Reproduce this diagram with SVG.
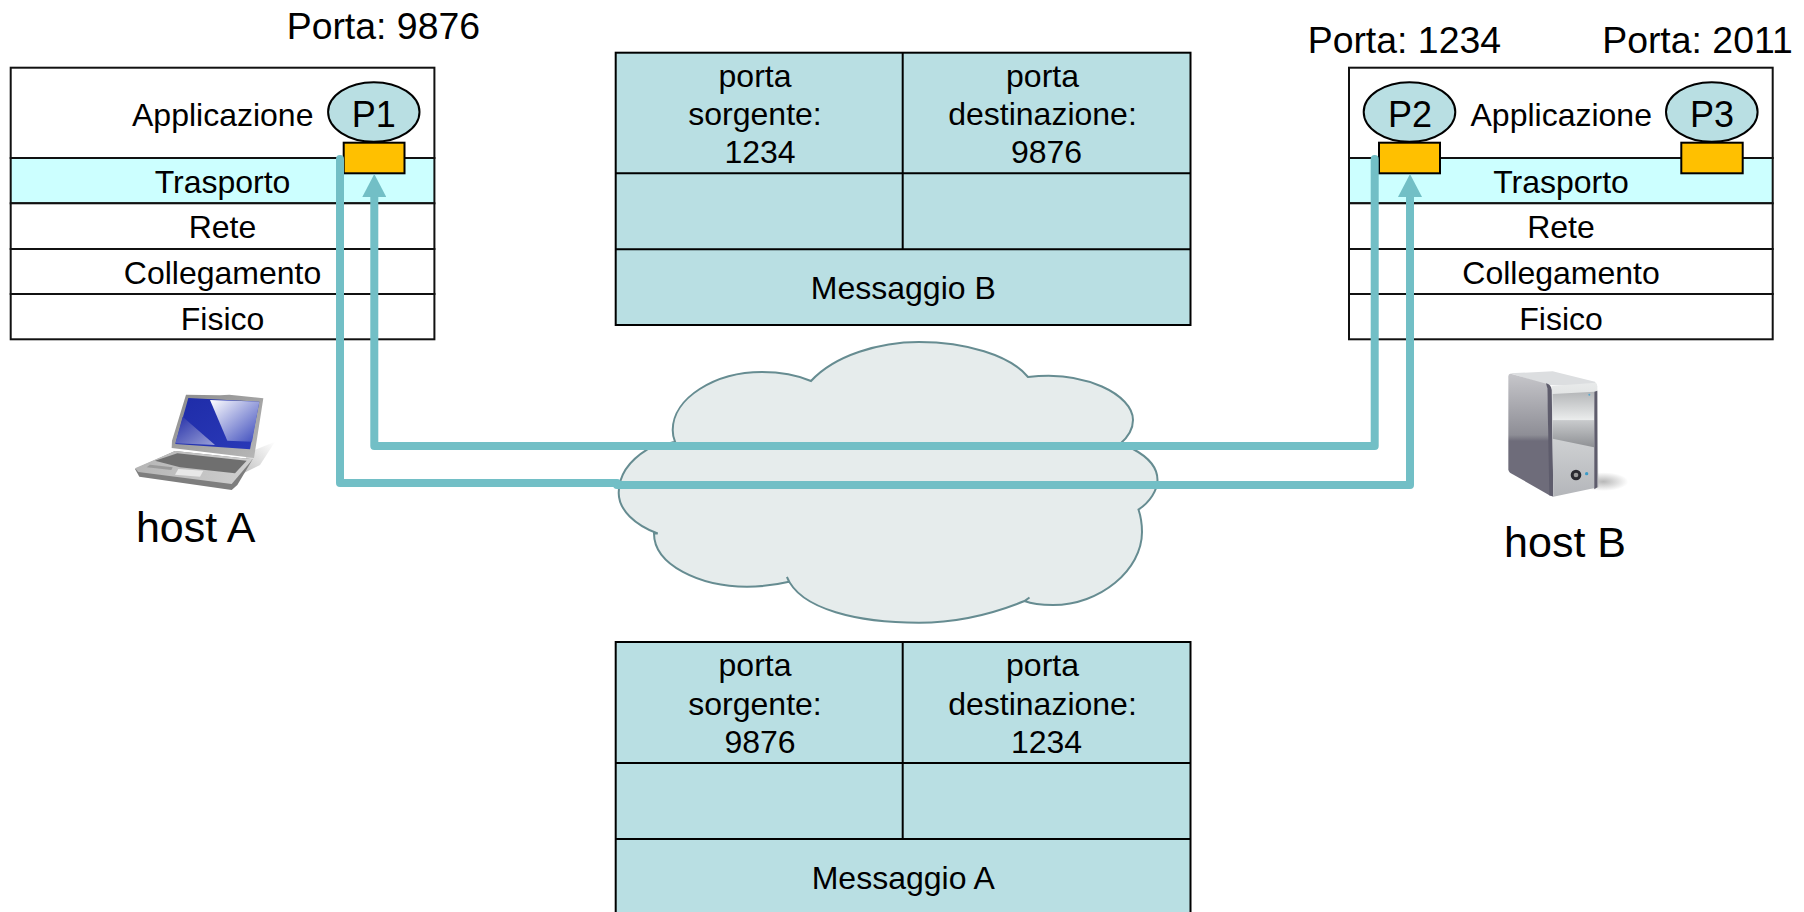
<svg xmlns="http://www.w3.org/2000/svg" width="1804" height="912" viewBox="0 0 1804 912">
<style>
text{font-family:"Liberation Sans",Arial,sans-serif;fill:#000;font-size:32px}
.m{text-anchor:middle}
.big{font-size:37.4px}
.p{font-size:36px;text-anchor:middle}
.h{font-size:43px;text-anchor:middle}
.box{fill:#fff;stroke:#111;stroke-width:2}
.tr{fill:#CCFFFF;stroke:#111;stroke-width:2}
.cell{fill:#B9DFE3;stroke:#000;stroke-width:2}
.proc{fill:#B9DFE3;stroke:#000;stroke-width:2}
.port{fill:#FFC000;stroke:#000;stroke-width:2}
.conn{fill:none;stroke:#72BFC6;stroke-width:8;stroke-linejoin:round;stroke-linecap:round}
</style>
<defs>
<marker id="ah" markerUnits="userSpaceOnUse" markerWidth="24" markerHeight="24" refX="0" refY="12" orient="auto"><path d="M0,0L23,12L0,24Z" fill="#72BFC6"/></marker>
<linearGradient id="scr" x1="0" y1="0" x2="1" y2="1"><stop offset="0" stop-color="#1E2CA8"/><stop offset="1" stop-color="#2A39B8"/></linearGradient>
<linearGradient id="shine" x1="0" y1="0" x2="1" y2="1"><stop offset="0" stop-color="#FFFFFF"/><stop offset="1" stop-color="#3A49BC"/></linearGradient>
<linearGradient id="shine2" x1="0" y1="0" x2="1" y2="1"><stop offset="0" stop-color="#2530A8"/><stop offset="1" stop-color="#9AA0D8"/></linearGradient>
<linearGradient id="lid" x1="0" y1="0" x2="1" y2="1"><stop offset="0" stop-color="#8C8C8C"/><stop offset="1" stop-color="#B8B8B8"/></linearGradient>
<linearGradient id="base" x1="0" y1="0" x2="1" y2="0"><stop offset="0" stop-color="#B5B5B5"/><stop offset="1" stop-color="#D0D0D0"/></linearGradient>
<linearGradient id="lapshd" x1="1" y1="0" x2="0" y2="1"><stop offset="0" stop-color="#FFFFFF"/><stop offset="1" stop-color="#C4C4C4"/></linearGradient>
<linearGradient id="side" x1="0" y1="0" x2="0" y2="1"><stop offset="0" stop-color="#C6C6CA"/><stop offset=".5" stop-color="#8E8E96"/><stop offset=".55" stop-color="#6E6C7A"/><stop offset="1" stop-color="#6E6C7A"/></linearGradient>
<linearGradient id="glass" x1="0" y1="0" x2="0" y2="1"><stop offset="0" stop-color="#B4B6B8"/><stop offset=".5" stop-color="#EAECEC"/><stop offset=".52" stop-color="#C8CACC"/><stop offset="1" stop-color="#8E9094"/></linearGradient>
<linearGradient id="front" x1="0" y1="0" x2="0" y2="1"><stop offset="0" stop-color="#E8EAEA"/><stop offset="1" stop-color="#B4B6BA"/></linearGradient>
<radialGradient id="shd"><stop offset="0" stop-color="#B8B8B8"/><stop offset="1" stop-color="#FFFFFF"/></radialGradient>
</defs>

<g id="cloud">
<path d="M811,381C835,355 880,342 919,342C965,342 1010,355 1028,377C1085,370 1133,395 1133,420C1133,430 1127,438 1120,444L1133,449C1148,457 1157.5,468 1157.5,480C1157.5,490 1150,502 1138.5,509.5C1141,517 1142,524 1142,532C1142,570 1100,605 1053,605C1042,605 1032,604 1024.5,601L1029.5,597.5L1024.5,601C995,613 960,622.7 919,622.7C860,622.7 800,610 787,577L789,581.7C775,585 760,586.7 747,586.7C700,586.7 654,565 654,533.5L657.7,533.5C635,525 618.7,510 618.7,493C618.7,475 630,460 647.4,449.3L675,441.7C673,437 672.7,433 672.7,430C672.7,398 715,372 762,372C780,372 797,375 811,381Z" fill="#E6ECEC" stroke="#668C91" stroke-width="2"/>
</g>

<g id="host-a-stack">
<rect class="box" x="10.7" y="67.7" width="423.7" height="90.3"/>
<rect class="tr" x="10.7" y="158" width="423.7" height="45.3"/>
<rect class="box" x="10.7" y="203.3" width="423.7" height="45.7"/>
<rect class="box" x="10.7" y="249" width="423.7" height="45"/>
<rect class="box" x="10.7" y="294" width="423.7" height="45.3"/>
<text x="132" y="125.5">Applicazione</text>
<text class="m" x="222.5" y="193.3">Trasporto</text>
<text class="m" x="222.5" y="238.3">Rete</text>
<text class="m" x="222.5" y="284.3">Collegamento</text>
<text class="m" x="222.5" y="329.5">Fisico</text>
</g>
<g id="p1">
<ellipse class="proc" cx="373.8" cy="112" rx="45.7" ry="29.8"/>
<rect class="port" x="343.7" y="142.7" width="60.8" height="30.6"/>
<text class="p" x="373.8" y="126.7">P1</text>
</g>
<text class="big" x="286.7" y="38.8">Porta: 9876</text>

<g id="host-b-stack">
<rect class="box" x="1349" y="67.7" width="423.7" height="90.3"/>
<rect class="tr" x="1349" y="158" width="423.7" height="45.3"/>
<rect class="box" x="1349" y="203.3" width="423.7" height="45.7"/>
<rect class="box" x="1349" y="249" width="423.7" height="45"/>
<rect class="box" x="1349" y="294" width="423.7" height="45.3"/>
<text x="1470.5" y="125.5">Applicazione</text>
<text class="m" x="1561" y="193.3">Trasporto</text>
<text class="m" x="1561" y="238.3">Rete</text>
<text class="m" x="1561" y="284.3">Collegamento</text>
<text class="m" x="1561" y="329.5">Fisico</text>
</g>
<g id="p2">
<ellipse class="proc" cx="1409.5" cy="112" rx="45.8" ry="29.8"/>
<rect class="port" x="1379" y="142.7" width="61" height="30.6"/>
<text class="p" x="1410" y="126.7">P2</text>
</g>
<g id="p3">
<ellipse class="proc" cx="1711.8" cy="112" rx="45.8" ry="29.8"/>
<rect class="port" x="1681.3" y="142.7" width="61.4" height="30.6"/>
<text class="p" x="1712" y="126.7">P3</text>
</g>
<text class="big" x="1307.7" y="52.8">Porta: 1234</text>
<text class="big" x="1602.2" y="52.8">Porta: 2011</text>

<g id="segment-b">
<rect class="cell" x="615.7" y="52.7" width="574.8" height="272.3"/>
<path d="M615.7,173.3H1190.5M615.7,249.3H1190.5M902.7,52.7V249.3" fill="none" stroke="#000" stroke-width="2"/>
<text class="m" x="755" y="87">porta</text>
<text class="m" x="755" y="125">sorgente:</text>
<text class="m" x="760" y="163">1234</text>
<text class="m" x="1042.5" y="87">porta</text>
<text class="m" x="1042.5" y="125">destinazione:</text>
<text class="m" x="1046.5" y="163">9876</text>
<text class="m" x="903.3" y="299.3">Messaggio B</text>
</g>

<g id="segment-a">
<rect class="cell" x="615.7" y="642" width="574.8" height="274"/>
<path d="M615.7,763H1190.5M615.7,839H1190.5M902.7,642V839" fill="none" stroke="#000" stroke-width="2"/>
<text class="m" x="755" y="676">porta</text>
<text class="m" x="755" y="715">sorgente:</text>
<text class="m" x="760" y="753">9876</text>
<text class="m" x="1042.5" y="676">porta</text>
<text class="m" x="1042.5" y="715">destinazione:</text>
<text class="m" x="1046.5" y="753">1234</text>
<text class="m" x="903.3" y="889.3">Messaggio A</text>
</g>

<g id="connectors">
<path class="conn" d="M1374.7,159V446H374.3V197" marker-end="url(#ah)"/>
<path class="conn" d="M340,159V483H617V485H1410V197" marker-end="url(#ah)"/>
</g>

<g id="host-a">
<g transform="translate(100,370) scale(.33333)">
<path d="M440,250L525,215L480,285L430,310Z" fill="url(#lapshd)"/>
<path d="M105,297L225,243L458,268L412,345L395,360L118,320Z" fill="#7E7E7E"/>
<path d="M105,295L225,243L458,268L395,342L115,306Z" fill="url(#base)"/>
<path d="M165,272L232,250L440,272L405,310L240,292Z" fill="#6F6F6F"/>
<path d="M235,297L310,302L300,320L225,314Z" fill="#E8E8E8"/>
<path d="M150,284L218,292L214,300L140,292Z" fill="#9A9A9A"/>
<path d="M258,74L360,76L388,74L490,85L462,264L215,234L216,212Z" fill="url(#lid)"/>
<path d="M265,84L478,95L450,238L226,222Z" fill="url(#scr)"/>
<path d="M330,90L478,95L456,215L382,212Z" fill="url(#shine)"/>
<path d="M248,140L345,225L226,220Z" fill="url(#shine2)"/>
</g>
<text class="h" x="195.7" y="541.9">host A</text>
</g>

<g id="host-b">
<g transform="translate(1460,350) scale(.33333)">
<ellipse cx="430" cy="395" rx="75" ry="28" fill="url(#shd)"/>
<path d="M150,70L278,64L405,95L412,110L262,105Z" fill="#DCDEE0"/>
<path d="M145,78Q146,70 155,72L262,102L272,438L150,368Q145,364 145,358Z" fill="url(#side)"/>
<path d="M258,100Q272,102 276,120L280,440L268,436L262,115Z" fill="#5E5C6C"/>
<path d="M275,108L408,98Q412,102 412,110L415,412L280,440Z" fill="url(#front)"/>
<path d="M278,132L403,125L402,292L278,266Z" fill="url(#glass)"/>
<path d="M403,125L412,122L412,412L403,418Z" fill="#5E5C6C"/>
<circle cx="348" cy="375" r="16" fill="#2A2A30"/>
<circle cx="348" cy="375" r="7" fill="#9A9A9A"/>
<circle cx="380" cy="371" r="5" fill="#3A9BC8"/>
<circle cx="388" cy="134" r="3" fill="#5AA8CC"/>
</g>
<text class="h" x="1565" y="556.9">host B</text>
</g>
</svg>
